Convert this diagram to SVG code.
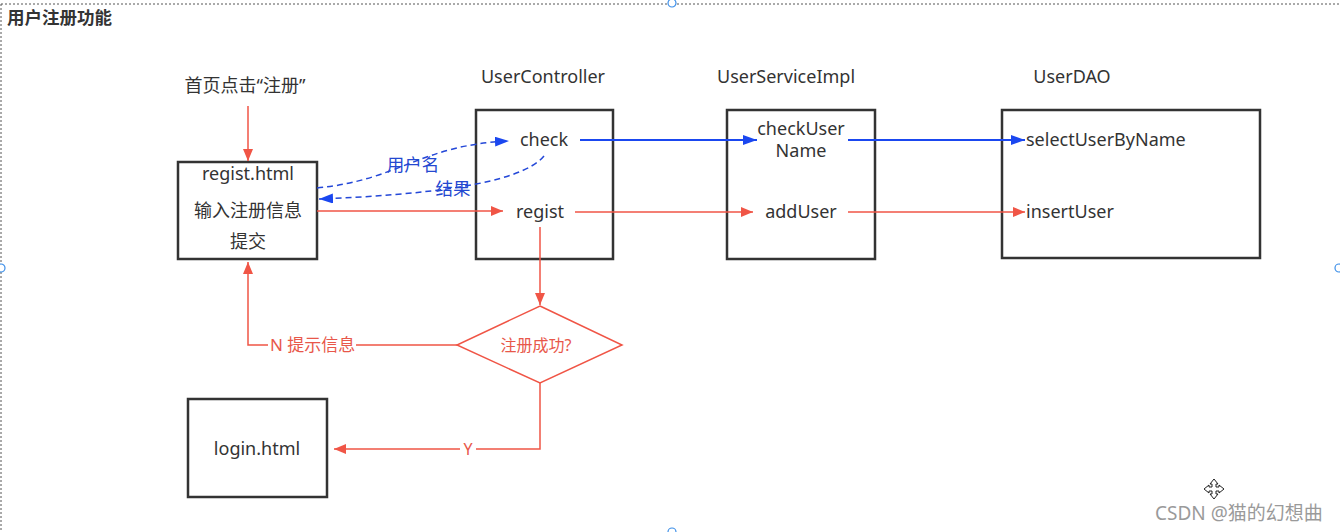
<svg xmlns="http://www.w3.org/2000/svg" width="1340" height="532" viewBox="0 0 1340 532">
<defs>
<marker id="ar" viewBox="0 0 12 10" refX="12" refY="5" markerWidth="12" markerHeight="10" markerUnits="userSpaceOnUse" orient="auto"><path d="M0,0 L12,5 L0,10 Z" fill="#f05546"/></marker>
<marker id="ab" viewBox="0 0 14 10" refX="14" refY="5" markerWidth="14" markerHeight="10" markerUnits="userSpaceOnUse" orient="auto"><path d="M0,0 L14,5 L0,10 Z" fill="#1a47f0"/></marker>
</defs>
<style>
.t{font-family:"Noto Sans","Noto Sans CJK SC",sans-serif;font-size:18px;fill:#333}
.box{fill:#fff;stroke:#333;stroke-width:2.5}
.r{stroke:#f05546;stroke-width:1.5;fill:none}
.b{stroke:#1a47f0;stroke-width:1.8;fill:none}
.bd{stroke:#2448d8;stroke-width:1.5;fill:none;stroke-dasharray:6 4}
.rt{font-family:"Noto Sans","Noto Sans CJK SC",sans-serif;font-size:17px;fill:#e8574a}
.bt{font-family:"Noto Sans","Noto Sans CJK SC",sans-serif;font-size:17.5px;fill:#2448d0}
.h{fill:#fff;stroke:#3b8ee8;stroke-width:1.2}
</style>
<rect width="1340" height="532" fill="#fff"/>
<g id="frame">
<line x1="1" y1="4" x2="1340" y2="4" stroke="#555" stroke-width="1" stroke-dasharray="2 2"/>
<line x1="1" y1="4" x2="1" y2="532" stroke="#555" stroke-width="1" stroke-dasharray="2 2"/>
<circle class="h" cx="672" cy="3" r="4"/>
<circle class="h" cx="1" cy="268" r="4"/>
<circle class="h" cx="1339" cy="268" r="4"/>
<circle class="h" cx="672" cy="532" r="4"/>
</g>
<text x="7" y="24" style="font-family:'Noto Sans CJK SC',sans-serif;font-size:17.5px;font-weight:bold;fill:#333">用户注册功能</text>

<g id="labels">
<text class="t" x="245" y="92" text-anchor="middle">首页点击“注册”</text>
<text class="t" x="543" y="83" text-anchor="middle">UserController</text>
<text class="t" x="786" y="83" text-anchor="middle">UserServiceImpl</text>
<text class="t" x="1072" y="83" text-anchor="middle">UserDAO</text>
</g>

<g id="regist-html">
<rect class="box" x="178" y="162" width="139" height="97"/>
<text class="t" x="248" y="180" text-anchor="middle">regist.html</text>
<text class="t" x="248" y="217" text-anchor="middle">输入注册信息</text>
<text class="t" x="248" y="248" text-anchor="middle">提交</text>
</g>
<g id="user-controller">
<rect class="box" x="476" y="110" width="137" height="149"/>
<text class="t" x="544" y="146" text-anchor="middle">check</text>
<text class="t" x="540" y="218" text-anchor="middle">regist</text>
</g>
<g id="user-service">
<rect class="box" x="727" y="110" width="148" height="149"/>
<text class="t" x="801" y="135" text-anchor="middle">checkUser</text>
<text class="t" x="801" y="157" text-anchor="middle">Name</text>
<text class="t" x="801" y="218" text-anchor="middle">addUser</text>
</g>
<g id="user-dao">
<rect class="box" x="1002" y="110" width="258" height="148"/>
<text class="t" x="1026" y="146">selectUserByName</text>
<text class="t" x="1026" y="218">insertUser</text>
</g>
<g id="decision">
<path d="M540,306 L622,345 L540,383 L457,345 Z" fill="#fff" stroke="#f05546" stroke-width="1.5"/>
<text class="rt" x="536" y="351" text-anchor="middle" style="font-size:16px">注册成功?</text>
</g>
<g id="login-html">
<rect class="box" x="188" y="399" width="139" height="98"/>
<text class="t" x="257" y="455" text-anchor="middle">login.html</text>
</g>

<g id="connectors">
<line class="r" x1="248" y1="106" x2="248" y2="161" marker-end="url(#ar)"/>
<path class="bd" d="M317,188 C400,180 420,145 509,141" marker-end="url(#ab)"/>
<path class="bd" d="M544,156 C520,185 420,195 319,199" marker-end="url(#ab)"/>
<line class="r" x1="317" y1="211" x2="503" y2="211" marker-end="url(#ar)"/>
<line class="b" x1="580" y1="140" x2="757" y2="140" marker-end="url(#ab)"/>
<line class="r" x1="575" y1="212" x2="753" y2="212" marker-end="url(#ar)"/>
<line class="b" x1="848" y1="140" x2="1025" y2="140" marker-end="url(#ab)"/>
<line class="r" x1="848" y1="212" x2="1025" y2="212" marker-end="url(#ar)"/>
<line class="r" x1="540" y1="227" x2="540" y2="305" marker-end="url(#ar)"/>
<path class="r" d="M457,345 L248,345 L248,262" marker-end="url(#ar)"/>
<path class="r" d="M540,383 L540,449 L334,449" marker-end="url(#ar)"/>
<rect x="268" y="334" width="88" height="22" fill="#fff"/>
<text class="rt" x="270" y="351">N 提示信息</text>
<rect x="460" y="439" width="16" height="22" fill="#fff"/>
<text class="rt" x="468" y="455" text-anchor="middle" style="font-size:16px">Y</text>
<text class="bt" x="413" y="171" text-anchor="middle">用户名</text>
<text class="bt" x="453" y="195" text-anchor="middle">结果</text>
</g>

<g id="watermark">
<path d="M1214,479 L1218,484 L1216,484 L1216,487 L1219,487 L1219,485 L1224,489 L1219,493 L1219,491 L1216,491 L1216,494 L1218,494 L1214,499 L1210,494 L1212,494 L1212,491 L1209,491 L1209,493 L1204,489 L1209,485 L1209,487 L1212,487 L1212,484 L1210,484 Z" fill="#fff" stroke="#222" stroke-width="1"/>
<text x="1155" y="520" style="font-family:'Noto Sans','Noto Sans CJK SC',sans-serif;font-size:19px;fill:#9a9a9a">CSDN @猫的幻想曲</text>
</g>
</svg>
